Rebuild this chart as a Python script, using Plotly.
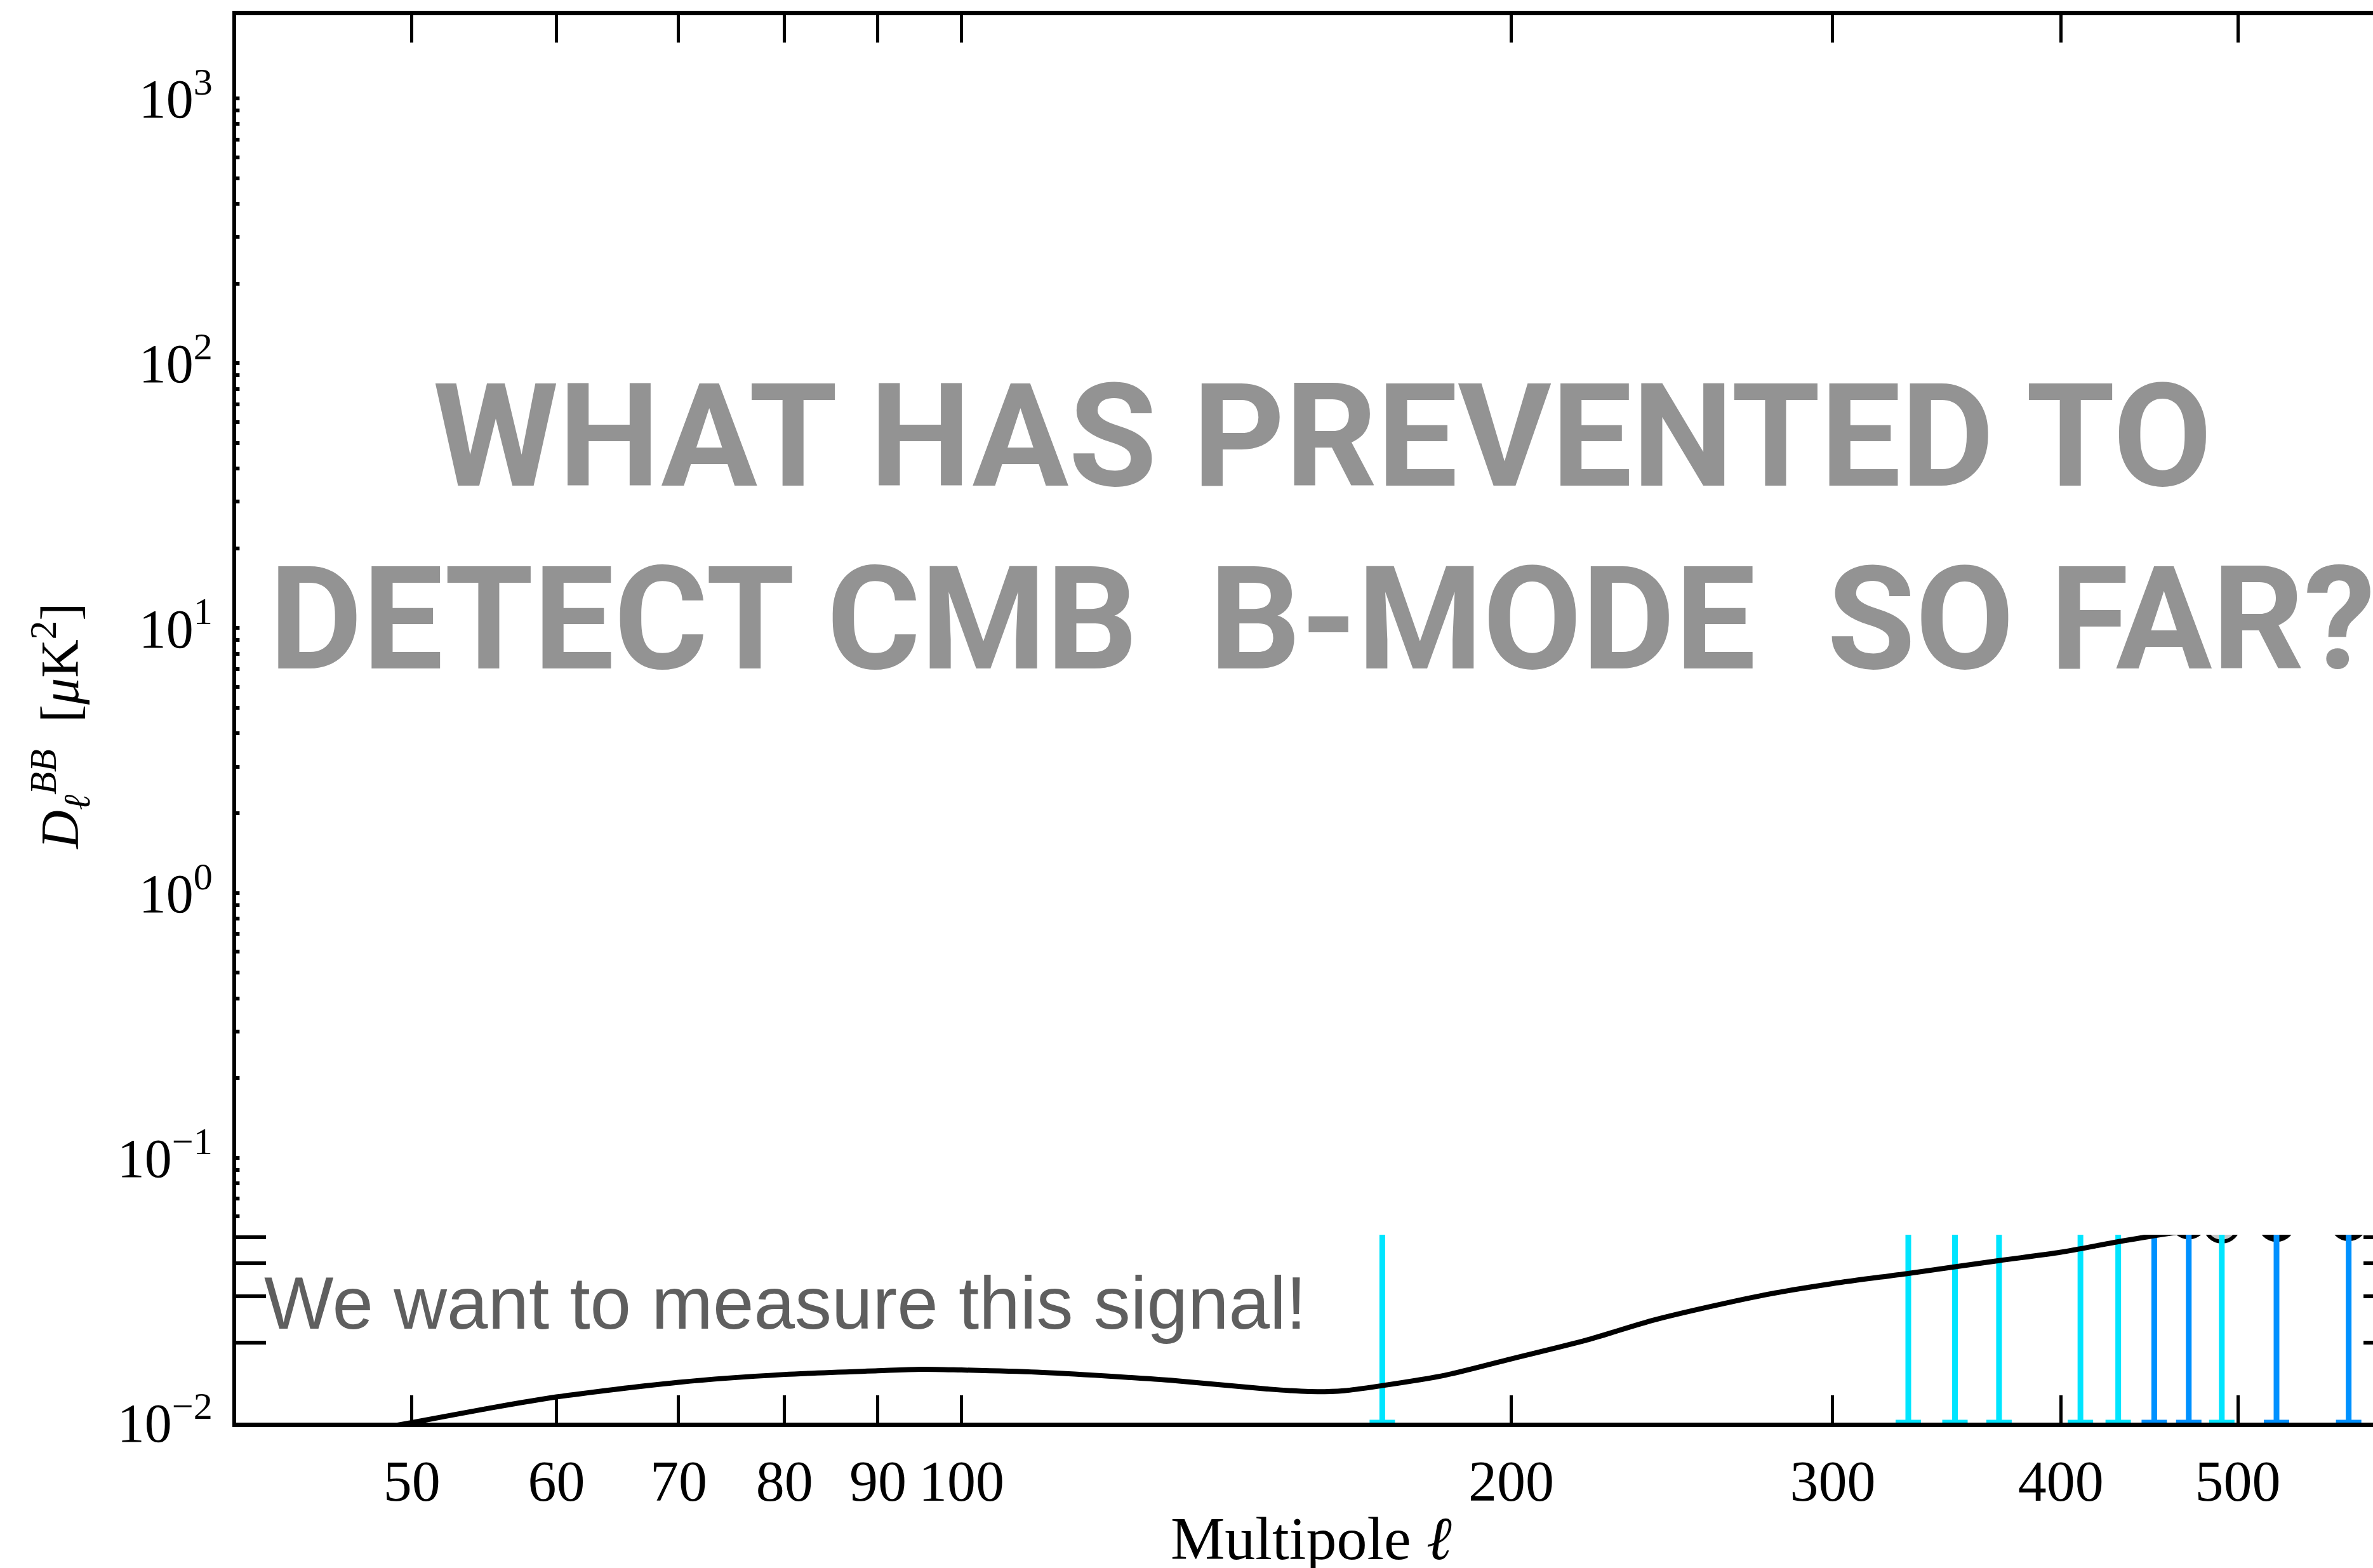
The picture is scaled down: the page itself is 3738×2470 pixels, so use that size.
import plotly.graph_objects as go

# ---------------- data ----------------
ell_curve = [45, 50, 55, 60, 70, 80, 90, 95, 100, 110, 120, 131, 147, 155, 162, 170,
             184, 200, 220, 240, 275, 300, 330, 370, 400, 430, 460, 500, 560, 600]
dl_curve = [0.0088, 0.0100, 0.0113, 0.0125, 0.0142, 0.0152, 0.0157, 0.0159, 0.0158, 0.0155,
            0.0150, 0.0144, 0.0134, 0.0131, 0.0132, 0.0138, 0.0151, 0.0174, 0.0205, 0.0245,
            0.0303, 0.0335, 0.0366, 0.0409, 0.0440, 0.0482, 0.0520, 0.0560, 0.0620, 0.0660]

bar_ell = [170, 330, 350, 370, 410, 430, 450, 470, 490, 525, 575]
bar_val = [0.20, 0.10, 0.12, 0.09, 0.10, 0.08, 0.09, 0.0581, 0.0560, 0.0568, 0.0572]
bar_low = [0.01, 0.01, 0.01, 0.01, 0.01, 0.01, 0.01, 0.01, 0.01, 0.01, 0.01]
bar_high = [0.80, 0.40, 0.50, 0.36, 0.40, 0.32, 0.36, 0.23, 0.22, 0.23, 0.23]
bar_group = ["cyan", "cyan", "cyan", "cyan", "cyan", "cyan", "blue", "blue", "cyan", "blue", "blue"]
point_fill = ["black", "black", "black", "black", "black", "black", "black", "black",
              "#c8c8c8", "black", "black"]

x_tickvals = [50, 60, 70, 80, 90, 100, 200, 300, 400, 500]
x_ticktext = ["50", "60", "70", "80", "90", "100", "200", "300", "400", "500"]
y_tickvals = [1e-2, 1e-1, 1e0, 1e1, 1e2, 1e3]
y_ticktext = ["10<sup>\u22122</sup>", "10<sup>\u22121</sup>", "10<sup>0</sup>",
              "10<sup>1</sup>", "10<sup>2</sup>", "10<sup>3</sup>"]
y_minorvals = [m * 10.0 ** e for e in range(-2, 3) for m in range(2, 10)]

headline_1 = "WHAT HAS PREVENTED TO"
headline_2 = "DETECT CMB\u00a0\u00a0B-MODE\u00a0\u00a0SO FAR?"
note_text = "We want to measure this signal!"

x_range_log = [1.6028, 2.7730]
y_range_log = [-2.0, 3.314]

COLORS = {"cyan": "#00e5ff", "blue": "#0091ff"}
SERIF = "Liberation Serif, DejaVu Serif, serif"
HEAD = "Roboto, Liberation Sans, Arial, sans-serif"

fig = go.Figure()

# data points (circles) underneath the error bars
fig.add_trace(go.Scatter(
    x=bar_ell, y=bar_val, mode="markers", cliponaxis=False, showlegend=False,
    marker=dict(symbol="circle", size=54, color=point_fill,
                line=dict(color="black", width=6)),
    hoverinfo="skip"))

# error bars, one trace per colour group
for grp in ["cyan", "blue"]:
    idx = [i for i, g in enumerate(bar_group) if g == grp]
    xs = [bar_ell[i] for i in idx]
    ys = [bar_val[i] for i in idx]
    up = [bar_high[i] - bar_val[i] for i in idx]
    dn = [bar_val[i] - bar_low[i] for i in idx]
    fig.add_trace(go.Scatter(
        x=xs, y=ys, mode="markers", cliponaxis=False, showlegend=False,
        marker=dict(size=2, color="rgba(0,0,0,0)"),
        error_y=dict(type="data", symmetric=False, array=up, arrayminus=dn,
                     color=COLORS[grp], thickness=9, width=20),
        hoverinfo="skip"))

# theory curve
fig.add_trace(go.Scatter(
    x=ell_curve, y=dl_curve, mode="lines", showlegend=False,
    line=dict(color="black", width=8, shape="spline", smoothing=0.8),
    hoverinfo="skip"))

# dummy trace so the right-hand tick axis exists
fig.add_trace(go.Scatter(
    x=[ell_curve[1]], y=[dl_curve[1]], yaxis="y2", mode="markers",
    marker=dict(size=1, color="rgba(0,0,0,0)"), showlegend=False, hoverinfo="skip"))

fig.update_layout(
    width=3738, height=2470,
    margin=dict(l=372, r=0, t=24, b=229, pad=0),
    paper_bgcolor="white", plot_bgcolor="white",
    showlegend=False,
    xaxis=dict(
        type="log", range=x_range_log, showgrid=False, zeroline=False,
        showline=True, linecolor="black", linewidth=7, mirror="ticks",
        ticks="inside", ticklen=43, tickwidth=5, tickcolor="black",
        tickvals=x_tickvals, ticktext=x_ticktext,
        tickfont=dict(family=SERIF, size=90, color="black"),
        ticklabelstandoff=8, layer="below traces"),
    yaxis=dict(
        type="log", range=y_range_log, showgrid=False, zeroline=False,
        showline=True, linecolor="black", linewidth=6, mirror=False,
        ticks="inside", ticklen=80, tickwidth=6, tickcolor="black",
        tickvals=y_tickvals, ticktext=y_ticktext,
        tickfont=dict(family=SERIF, size=86, color="black"),
        ticklabelstandoff=14, layer="below traces",
        minor=dict(ticks="inside", ticklen=47, tickwidth=6, tickcolor="black",
                   tickvals=y_minorvals, showgrid=False)),
    yaxis2=dict(
        type="log", range=y_range_log, overlaying="y", side="right", anchor="x",
        showgrid=False, zeroline=False, showline=False, showticklabels=False,
        ticks="inside", ticklen=15, tickwidth=6, tickcolor="black",
        tickvals=y_tickvals,
        minor=dict(ticks="inside", ticklen=15, tickwidth=6, tickcolor="black",
                   tickvals=y_minorvals, showgrid=False)),
    shapes=[dict(type="rect", xref="paper", yref="paper",
                 x0=0.0016, x1=1.0, y0=0.1335, y1=0.978,
                 fillcolor="white", line=dict(width=0), layer="above")],
    annotations=[
        dict(text=headline_1, xref="paper", yref="paper", x=0.5083, y=0.7005,
             xanchor="center", yanchor="middle", showarrow=False,
             font=dict(family=HEAD, size=226, color="#939393", weight="bold")),
        dict(text=headline_2, xref="paper", yref="paper", x=0.5083, y=0.5710,
             xanchor="center", yanchor="middle", showarrow=False,
             font=dict(family=HEAD, size=226, color="#939393", weight="bold")),
        dict(text=note_text, xref="paper", yref="paper", x=0.0125, y=0.0848,
             xanchor="left", yanchor="middle", showarrow=False,
             font=dict(family="Liberation Sans, Arial, sans-serif", size=116, color="#5f5f5f")),
        dict(text="Multipole <i>\u2113</i>", xref="paper", yref="paper", x=0.503, y=-0.0825,
             xanchor="center", yanchor="middle", showarrow=False,
             font=dict(family=SERIF, size=96, color="black")),
        dict(text="<i>D</i><sub><i>\u2113</i></sub><sup><i>BB</i></sup>\u00a0\u00a0[<i>\u03bc</i>K<sup>2</sup>]",
             xref="paper", yref="paper", x=-0.0823, y=0.4948, textangle=-90,
             xanchor="center", yanchor="middle", showarrow=False,
             font=dict(family=SERIF, size=84, color="black")),
    ],
)

fig.write_html("out.html")
